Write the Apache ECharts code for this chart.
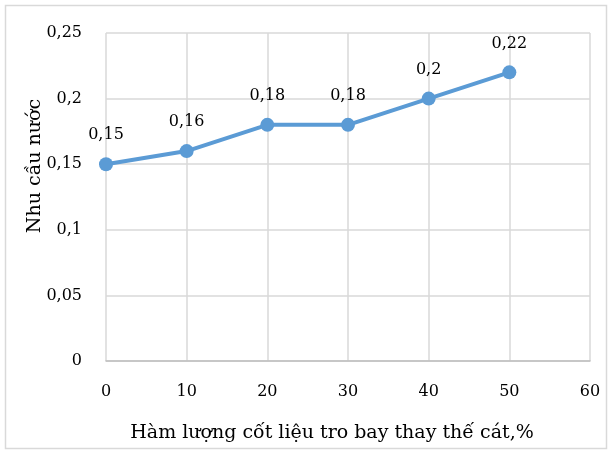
<!DOCTYPE html>
<html>
<head>
<meta charset="utf-8">
<script src="https://cdn.jsdelivr.net/npm/echarts@6/dist/echarts.min.js"></script>
<style>
  html, body { margin: 0; padding: 0; background: #fff; }
  #chart { width: 612px; height: 452px; }
</style>
</head>
<body>
<div id="chart"></div>
<script>
// Water demand versus fly-ash aggregate replacement of sand
const replacement = [0, 10, 20, 30, 40, 50];
const waterDemand = [0.15, 0.16, 0.18, 0.18, 0.2, 0.22];
const xTitle = 'Hàm lượng cốt liệu tro bay thay thế cát,%';
const yTitle = 'Nhu cầu nước';

const FONT = 'DejaVu Serif';
const chart = echarts.init(document.getElementById('chart'), null, { renderer: 'canvas' });

const fmtComma = v => String(v).replace('.', ',');

chart.setOption({
  animation: false,
  backgroundColor: '#ffffff',
  grid: { left: 106, right: 22, top: 33, bottom: 91, containLabel: false },
  xAxis: {
    type: 'value',
    min: 0, max: 60, interval: 10,
    axisLine: { show: true, lineStyle: { color: '#bfbfbf', width: 1.5 } },
    axisTick: { show: false },
    splitLine: { show: true, lineStyle: { color: '#d9d9d9', width: 1.5 } },
    axisLabel: { margin: 23, color: '#000', fontFamily: FONT, fontSize: 16 }
  },
  yAxis: {
    type: 'value',
    min: 0, max: 0.25, interval: 0.05,
    axisLine: { show: false },
    axisTick: { show: false },
    splitLine: { show: true, lineStyle: { color: '#d9d9d9', width: 1.5 } },
    axisLabel: {
      margin: 24, color: '#000', fontFamily: FONT, fontSize: 16,
      formatter: v => fmtComma(+v.toFixed(2))
    }
  },
  series: [{
    type: 'line',
    data: replacement.map((x, i) => [x, waterDemand[i]]),
    symbol: 'circle',
    symbolSize: 14,
    lineStyle: { color: '#5b9bd5', width: 4 },
    itemStyle: { color: '#5b9bd5' },
    label: {
      show: true, position: 'top', distance: 14,
      color: '#000', fontFamily: FONT, fontSize: 16,
      formatter: p => fmtComma(p.value[1])
    }
  }],
  graphic: [
    {
      type: 'rect', silent: true,
      shape: { x: 5.5, y: 5.5, width: 601, height: 443 },
      style: { fill: 'none', stroke: '#d9d9d9', lineWidth: 1.5 }
    },
    {
      type: 'text', x: 332, y: 433,
      style: { text: xTitle, fill: '#000', font: '19px "DejaVu Serif"', align: 'center', verticalAlign: 'middle' }
    },
    {
      type: 'text', x: 35, y: 166, rotation: Math.PI / 2,
      style: { text: yTitle, fill: '#000', font: '19px "DejaVu Serif"', align: 'center', verticalAlign: 'middle' }
    }
  ]
});
</script>
</body>
</html>
